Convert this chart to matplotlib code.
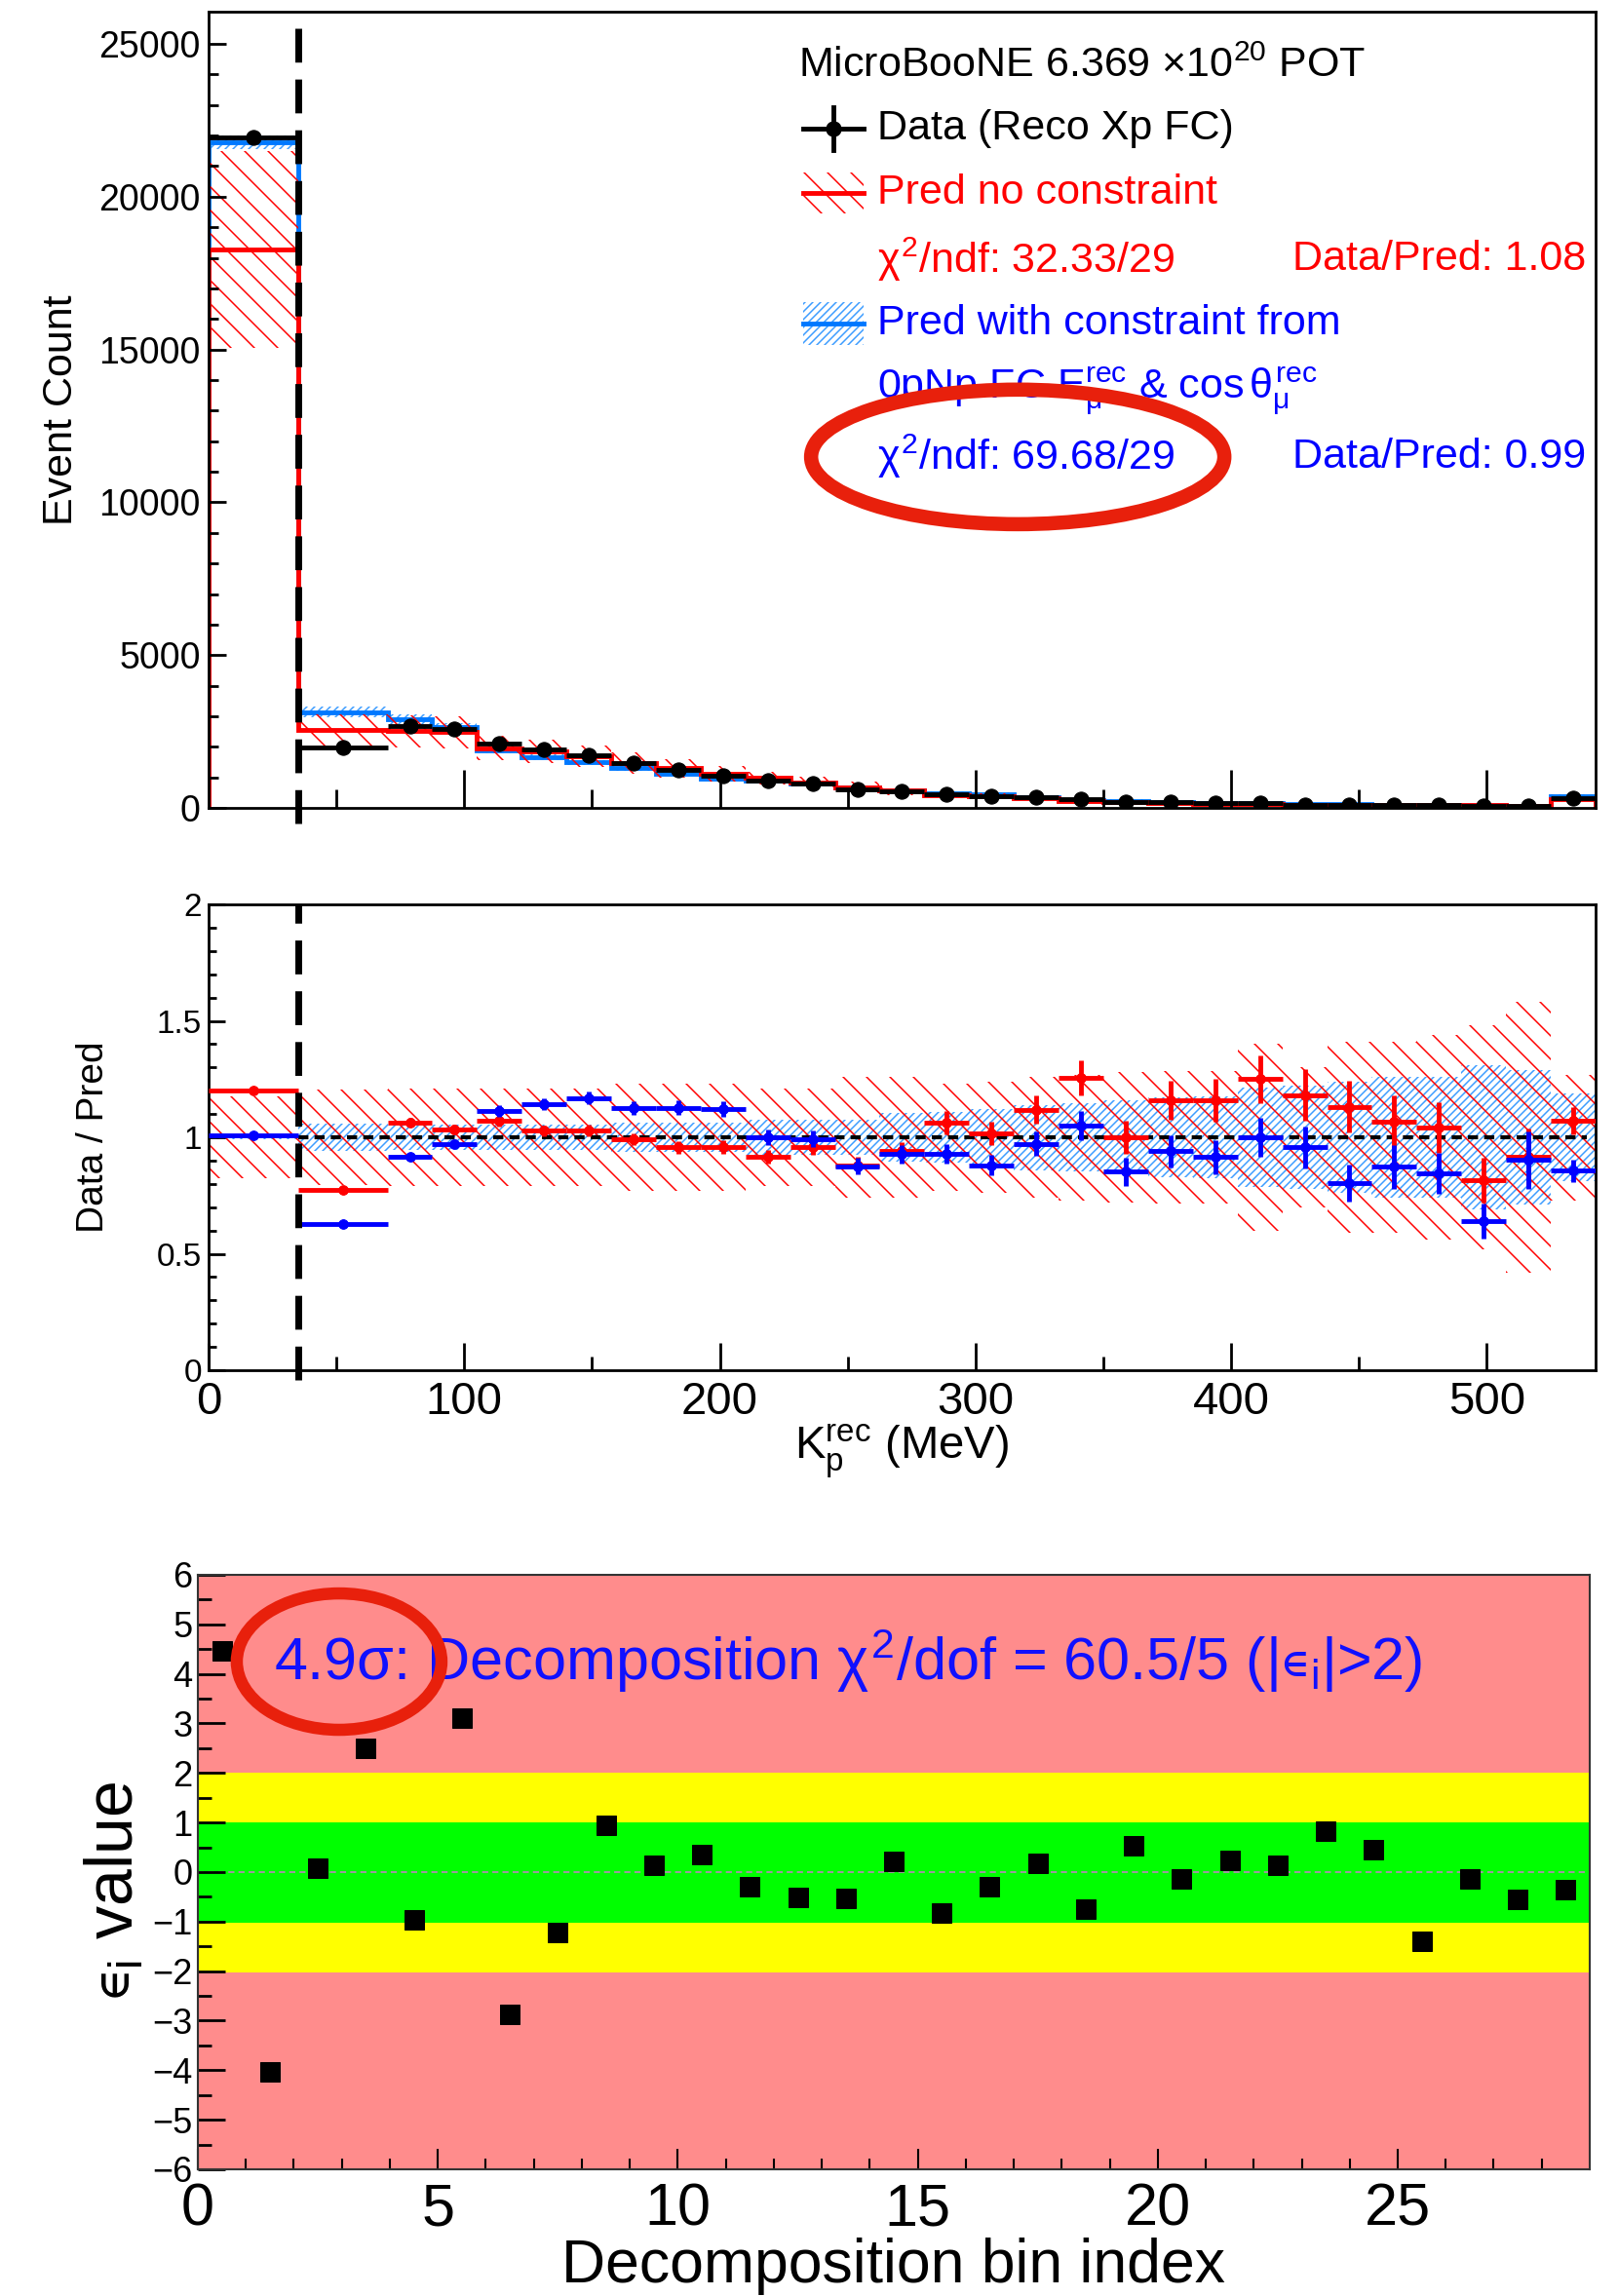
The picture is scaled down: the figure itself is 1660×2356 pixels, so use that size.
import numpy as np
import matplotlib
matplotlib.use('Agg')
import matplotlib.pyplot as plt
from matplotlib.patches import Ellipse, Rectangle
from matplotlib.lines import Line2D

plt.rcParams['font.family'] = ['Liberation Sans', 'DejaVu Sans']
plt.rcParams['mathtext.fontset'] = 'custom'
plt.rcParams['mathtext.rm'] = 'Liberation Sans'
plt.rcParams['mathtext.it'] = 'Liberation Sans'
plt.rcParams['mathtext.bf'] = 'Liberation Sans:bold'
plt.rcParams['mathtext.fallback'] = 'stixsans'
plt.rcParams['hatch.linewidth'] = 1.5

#--------------------------------------------------------------------------------
# K_p^rec binning (MeV), 29 bins
edges = [0, 35, 70, 87.5, 105, 122.5, 140, 157.5, 175, 192.5, 210, 227.5, 245,
         262.5, 280, 297.5, 315, 332.5, 350, 367.5, 385, 402.5, 420, 437.5, 455,
         472.5, 490, 507.5, 525, 542.5]

# data counts per bin
data_counts = [21930, 1970, 2670, 2570, 2100, 1900, 1740, 1460, 1250, 1060, 900,
               800, 600, 540, 450, 400, 345, 280, 205, 190, 155, 148, 110, 105,
               88, 90, 72, 55, 325]

# data / prediction ratios
ratio_nocon = [1.20, 0.775, 1.065, 1.035, 1.07, 1.028, 1.028, 0.993, 0.958, 0.958,
               0.916, 0.958, 0.88, 0.94, 1.063, 1.017, 1.119, 1.257, 1.0, 1.159,
               1.159, 1.25, 1.182, 1.131, 1.066, 1.042, 0.817, 0.916, 1.07]
ratio_con = [1.007, 0.627, 0.916, 0.972, 1.113, 1.142, 1.169, 1.124, 1.127, 1.121,
             1.0, 0.993, 0.875, 0.927, 0.929, 0.880, 0.971, 1.049, 0.852, 0.940,
             0.915, 1.0, 0.957, 0.803, 0.873, 0.846, 0.639, 0.902, 0.856]

# relative prediction uncertainties
unc_nocon = [0.176, 0.205, 0.21, 0.21, 0.21, 0.21, 0.21, 0.232, 0.232, 0.232, 0.21,
             0.21, 0.258, 0.258, 0.23, 0.24, 0.26, 0.27, 0.28, 0.285, 0.285, 0.40,
             0.30, 0.41, 0.41, 0.44, 0.48, 0.58, 0.27]
unc_con = [0.01, 0.06, 0.056, 0.056, 0.056, 0.056, 0.056, 0.063, 0.063, 0.063, 0.077,
           0.077, 0.077, 0.105, 0.11, 0.12, 0.14, 0.147, 0.16, 0.17, 0.175, 0.215,
           0.22, 0.24, 0.26, 0.26, 0.31, 0.29, 0.19]

# decomposition epsilon_i values
eps_values = [4.46, -4.03, 0.08, 2.49, -0.96, 3.10, -2.87, -1.22, 0.95, 0.13, 0.36,
              -0.29, -0.51, -0.54, 0.22, -0.83, -0.29, 0.18, -0.75, 0.54, -0.14,
              0.24, 0.13, 0.83, 0.45, -1.39, -0.13, -0.56, -0.36]

#--------------------------------------------------------------------------------
edges = np.array(edges)
data = np.array(data_counts, dtype=float)
centers = 0.5 * (edges[:-1] + edges[1:])
halfw = 0.5 * (edges[1:] - edges[:-1])
r_red = np.array(ratio_nocon)
r_blue = np.array(ratio_con)
u_red = np.array(unc_nocon)
u_blue = np.array(unc_con)
pred_red = data / r_red
pred_blue = data / r_blue
data_err = np.sqrt(data)

red = '#ff0000'
blue_line = '#0078ff'
blue_hatch = '#3c9cff'
blue_txt = '#0000ff'
circ = '#e8200c'

# drawn at 72 dpi (hatch spacing follows dpi); sizes below are given for 100 dpi
DPI = 72
PT = 100.0 / DPI

fig = plt.figure(figsize=(1660 / DPI, 2356 / DPI), dpi=DPI)
ax1 = fig.add_axes([0.1289, 0.6481, 0.8572, 0.3468])
ax2 = fig.add_axes([0.1289, 0.4032, 0.8572, 0.2029])
ax3 = fig.add_axes([0.1223, 0.0552, 0.8602, 0.2589])

#Top panel
ax1.stairs(pred_blue * (1 + u_blue), edges, baseline=pred_blue * (1 - u_blue),
           fill=False, hatch='///', edgecolor=blue_hatch, lw=0)
ax1.stairs(pred_blue, edges, baseline=0, color=blue_line, lw=3.5 * PT)
ax1.stairs(pred_red * (1 + u_red), edges, baseline=pred_red * (1 - u_red),
           fill=False, hatch='\\', edgecolor=red, lw=0)
ax1.stairs(pred_red, edges, baseline=0, color=red, lw=3.5 * PT)
ax1.errorbar(centers, data, xerr=halfw, yerr=data_err, fmt='o', color='black',
             ms=11 * PT, lw=3.5 * PT, capsize=0, zorder=5)
ax1.axvline(edges[1], ymin=-0.02, ymax=1, color='black', lw=5 * PT,
            ls=(0, (5, 2.5)), clip_on=False, zorder=6)
ax1.set_xlim(edges[0], edges[-1])
ax1.set_ylim(0, 26050)
ax1.set_yticks([0, 5000, 10000, 15000, 20000, 25000])
ax1.set_yticks(np.arange(0, 26000, 1000), minor=True)
ax1.set_xticks([100, 200, 300, 400, 500])
ax1.set_xticks([50, 150, 250, 350, 450], minor=True)
ax1.tick_params(axis='x', which='major', direction='in', length=28 * PT, width=2 * PT,
                labelbottom=False)
ax1.tick_params(axis='x', which='minor', direction='in', length=14 * PT, width=2 * PT)
ax1.tick_params(axis='y', which='major', direction='in', length=13 * PT, width=2 * PT,
                labelsize=27 * PT, pad=6 * PT)
ax1.tick_params(axis='y', which='minor', direction='in', length=7 * PT, width=2 * PT)
ax1.set_ylabel('Event Count', fontsize=31 * PT)
ax1.yaxis.set_label_coords(-0.092, 0.5)
for s in ax1.spines.values():
    s.set_linewidth(2 * PT)

# legend
T = ax1.transAxes
lx0, lx1, tx = 0.429, 0.472, 0.482
fs = 31 * PT
ax1.text(0.425, 0.932, r'MicroBooNE 6.369 $\times$10$^{20}$ POT', transform=T,
         va='center', fontsize=fs)
ax1.add_line(Line2D([lx0, lx1], [0.853, 0.853], transform=T, color='black', lw=3.5 * PT))
ax1.add_line(Line2D([0.4505, 0.4505], [0.826, 0.880], transform=T, color='black', lw=3.5 * PT))
ax1.add_line(Line2D([0.4505], [0.853], transform=T, color='black', marker='o', ms=11 * PT))
ax1.text(tx, 0.853, 'Data (Reco Xp FC)', transform=T, va='center', fontsize=fs)
ax1.add_patch(Rectangle((lx0, 0.747), lx1 - lx0, 0.051, transform=T, fill=False,
                        hatch='\\', edgecolor=red, lw=0))
ax1.add_line(Line2D([lx0, lx1], [0.772, 0.772], transform=T, color=red, lw=3.5 * PT))
ax1.text(tx, 0.772, 'Pred no constraint', transform=T, va='center', fontsize=fs, color=red)
ax1.text(tx, 0.689, r'$\chi^{2}$/ndf: 32.33/29', transform=T, va='center',
         fontsize=fs, color=red)
ax1.text(0.993, 0.689, 'Data/Pred: 1.08', transform=T, va='center', ha='right',
         fontsize=fs, color=red)
ax1.add_patch(Rectangle((lx0, 0.581), lx1 - lx0, 0.054, transform=T, fill=False,
                        hatch='///', edgecolor=blue_hatch, lw=0))
ax1.add_line(Line2D([lx0, lx1], [0.608, 0.608], transform=T, color=blue_line, lw=3.5 * PT))
ax1.text(tx, 0.608, 'Pred with constraint from', transform=T, va='center',
         fontsize=fs, color=blue_txt)
ax1.text(tx, 0.523, r'0pNp FC E$_{\mu}^{\mathrm{rec}}$ & cos$\,\theta_{\mu}^{\mathrm{rec}}$',
         transform=T, va='center', fontsize=fs, color=blue_txt)
ax1.text(tx, 0.441, r'$\chi^{2}$/ndf: 69.68/29', transform=T, va='center',
         fontsize=fs, color=blue_txt)
ax1.text(0.993, 0.441, 'Data/Pred: 0.99', transform=T, va='center', ha='right',
         fontsize=fs, color=blue_txt)

#Ratio panel
ax2.stairs(1 + u_blue, edges, baseline=1 - u_blue, fill=False, hatch='///',
           edgecolor=blue_hatch, lw=0)
ax2.stairs(1 + u_red, edges, baseline=1 - u_red, fill=False, hatch='\\',
           edgecolor=red, lw=0)
ax2.axhline(1, xmin=edges[1] / edges[-1], xmax=0.994, color='black', lw=3 * PT,
            ls=(0, (2.5, 1.5)))
ax2.errorbar(centers, r_red, xerr=halfw, yerr=data_err / pred_red, fmt='o',
             color=red, ms=7 * PT, lw=3.5 * PT, capsize=0, zorder=4)
ax2.errorbar(centers, r_blue, xerr=halfw, yerr=data_err / pred_blue, fmt='o',
             color='#0000ff', ms=7 * PT, lw=3.5 * PT, capsize=0, zorder=5)
ax2.axvline(edges[1], ymin=-0.02, ymax=1, color='black', lw=5 * PT,
            ls=(0, (5, 2.5)), clip_on=False, zorder=6)
ax2.set_xlim(edges[0], edges[-1])
ax2.set_ylim(0, 2)
ax2.set_yticks([0, 0.5, 1, 1.5, 2])
ax2.set_yticklabels(['0', '0.5', '1', '1.5', '2'])
ax2.set_yticks(np.arange(0, 2.01, 0.1), minor=True)
ax2.set_xticks([0, 100, 200, 300, 400, 500])
ax2.set_xticks([50, 150, 250, 350, 450], minor=True)
ax2.tick_params(axis='x', which='major', direction='in', length=20 * PT, width=2 * PT,
                labelsize=34 * PT, pad=8 * PT)
ax2.tick_params(axis='x', which='minor', direction='in', length=10 * PT, width=2 * PT)
ax2.tick_params(axis='y', which='major', direction='in', length=12 * PT, width=2 * PT,
                labelsize=24 * PT, pad=5 * PT)
ax2.tick_params(axis='y', which='minor', direction='in', length=6 * PT, width=2 * PT)
ax2.set_ylabel('Data / Pred', fontsize=28 * PT)
ax2.yaxis.set_label_coords(-0.07, 0.5)
ax2.set_xlabel(r'K$_{\mathrm{p}}^{\mathrm{rec}}$ (MeV)', fontsize=34 * PT)
ax2.xaxis.set_label_coords(0.5, -0.112)
for s in ax2.spines.values():
    s.set_linewidth(2 * PT)

#Decomposition panel
idx = np.arange(len(eps_values)) + 0.5
ax3.axhspan(-6, 6, color='#ff8c8c', zorder=0)
ax3.axhspan(-2, 2, color='#ffff00', zorder=0)
ax3.axhspan(-1, 1, color='#00ff00', zorder=0)
ax3.axhline(0, color='#9a9a9a', lw=1.5 * PT, ls=(0, (3, 2)), zorder=1)
ax3.plot(idx, eps_values, 's', color='black', ms=14 * PT, zorder=3)
ax3.text(1.59, 3.87, r'4.9$\sigma$: Decomposition $\chi^{2}$/dof = 60.5/5 (|$∊_{i}$|>2)',
         color='#1010ff', fontsize=44 * PT, va='baseline', zorder=4)
ax3.set_xlim(0, len(eps_values))
ax3.set_ylim(-6, 6)
ax3.set_xticks([0, 5, 10, 15, 20, 25])
ax3.set_xticks(np.arange(0, 29, 1), minor=True)
ax3.set_yticks(np.arange(-6, 7, 1))
ax3.set_yticks(np.arange(-6, 6.1, 0.5), minor=True)
ax3.tick_params(axis='x', which='major', direction='in', length=15 * PT, width=1.5 * PT,
                labelsize=44 * PT, pad=10 * PT)
ax3.tick_params(axis='x', which='minor', direction='in', length=8 * PT, width=1.5 * PT)
ax3.tick_params(axis='y', which='major', direction='in', length=20 * PT, width=2 * PT,
                labelsize=26 * PT, pad=4 * PT)
ax3.tick_params(axis='y', which='minor', direction='in', length=10 * PT, width=2 * PT)
ax3.set_xlabel('Decomposition bin index', fontsize=45 * PT)
ax3.xaxis.set_label_coords(0.5, -0.115)
ax3.set_ylabel(r'$∊_{i}$ value', fontsize=49 * PT)
ax3.yaxis.set_label_coords(-0.037, 0.467)
for s in ax3.spines.values():
    s.set_linewidth(1.5 * PT)
    s.set_color('#333333')

# highlight circles
fig.add_artist(Ellipse((0.629, 0.801), 0.2554, 0.0586, transform=fig.transFigure,
                       fill=False, edgecolor=circ, lw=10.5 * PT, zorder=10))
fig.add_artist(Ellipse((0.2096, 0.2763), 0.1265, 0.0594, transform=fig.transFigure,
                       fill=False, edgecolor=circ, lw=9 * PT, zorder=10))

plt.savefig('out.png', dpi=DPI)
